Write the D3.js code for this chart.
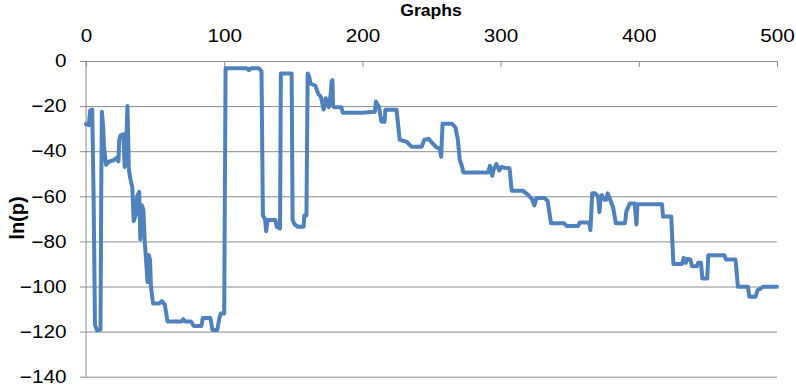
<!DOCTYPE html>
<html>
<head>
<meta charset="utf-8">
<script src="https://cdn.jsdelivr.net/npm/d3@7"></script>
<style>
  html, body { margin: 0; padding: 0; background: #fff; }
  svg { display: block; }
</style>
</head>
<body>
<svg id="chart" width="796" height="387"></svg>
<script>
// Graph index along the run
const graphs = [
  0, 2, 3, 4.5, 5.5, 6.5, 8, 10.5, 11, 11.5, 12.5, 13, 14.5, 17, 20, 22, 23.5, 24, 25, 27,
  28, 29.5, 30, 31, 32, 33.5, 34.5, 36, 37, 38.5, 39.3, 40.5, 41.5, 42.5, 43.3, 44.5, 45.3, 46.3, 47, 48.5,
  53, 55, 57, 59, 69, 70.4, 71.5, 76, 78, 83.5, 84.5, 90, 91.5, 95, 96.5, 97.5, 100, 101, 116, 118,
  119.5, 125, 127, 128, 129.5, 130.4, 131.3, 137, 138, 140.4, 141, 148.8, 149.5, 151, 153.4, 157.5, 158, 159.5, 160.4, 161.5,
  162.5, 166, 168, 170, 172, 173.5, 175.6, 177, 177.7, 178.3, 178.8, 179.5, 184.7, 185.9, 200, 209, 209.8, 212, 213.7, 216,
  216.7, 224.7, 227, 232, 235.5, 243, 244.7, 248, 250, 253, 256, 257, 258, 264.8, 267.3, 269, 270.5, 272, 273, 291,
  292.3, 294, 295, 297, 299, 300.5, 304, 306.5, 308, 316, 318, 320, 322.5, 324.4, 326, 331.6, 334, 336.5, 346, 348,
  356, 357.3, 364, 365, 366.3, 368.5, 370.5, 371.5, 372.5, 373.3, 375, 376.5, 377.5, 379, 381.5, 383.4, 390, 391, 393.5, 397,
  398.3, 399, 401, 416.8, 417.5, 423.5, 425, 431.3, 432.5, 434, 435, 437.3, 438.5, 442, 443, 445, 446, 449.5, 450.3, 462,
  463, 470, 471.7, 479, 480, 484.5, 486, 488, 490, 500
];

// ln(p) at each graph
const lnP = [
  -28, -28.5, -22, -21.5, -60, -117, -119.5, -119, -60, -22.5, -30, -38, -46, -44.5, -44, -43, -44.5, -35, -33, -32.5,
  -47, -30, -20, -48, -52, -56, -71, -68, -60, -58, -79, -64, -66, -80, -87, -98, -86, -88, -100, -107.5,
  -107.5, -106.5, -108, -115.5, -115.5, -114.5, -115.5, -115.5, -117.5, -117.5, -114, -114, -119.3, -119.3, -114, -112, -112, -3.2, -3.2, -4,
  -3.2, -3.2, -4.5, -68.5, -70, -75.5, -70.5, -70.5, -73.5, -74.3, -5.5, -5.5, -70.5, -72.5, -73.5, -73.5, -68.5, -68.5, -5.5, -7,
  -10, -11, -14.5, -16, -21.5, -16.5, -20.5, -15, -9, -8.5, -20, -20.5, -20.5, -23, -23, -22.5, -18, -20.5, -26.8, -27,
  -21.6, -21.6, -35, -35.8, -38, -38, -35, -34.5, -36, -38, -39, -42.5, -27.8, -27.8, -29.5, -34.6, -44, -46.5, -49.4, -49.4,
  -46.5, -50.9, -48, -45.7, -48.5, -47, -47.5, -47.6, -57.5, -57.5, -58.5, -59.5, -61, -64, -60.7, -60.7, -62, -72, -72, -73.2,
  -73.2, -71.6, -71.6, -75, -58.7, -58.7, -60, -67, -60, -59.5, -61.5, -61.5, -58.7, -61, -65.2, -72, -72, -66.7, -63.2, -63.2,
  -72.5, -63.5, -63.5, -63.5, -69, -69, -90, -90, -87.3, -89.5, -87.8, -88, -91, -91, -89.5, -89.5, -96.5, -96.5, -86.1, -86.1,
  -88, -88, -100.1, -100.1, -104.5, -104.5, -101.6, -101, -100.1, -100.1
];

const xTicks = [0, 100, 200, 300, 400, 500];
const yTicks = [0, -20, -40, -60, -80, -100, -120, -140];
const xTitle = "Graphs";
const yTitle = "ln(p)";

const svg = d3.select("#chart");
const plot = { left: 86, right: 777, top: 61, bottom: 376.7 };

const x = d3.scaleLinear().domain([0, 500]).range([plot.left, plot.right]);
const y = d3.scaleLinear().domain([-140, 0]).range([plot.bottom, plot.top]);

const gridColor = "#8c8c8c";
const font = "'Liberation Sans', Arial, sans-serif";

// Horizontal gridlines with short ticks on the left
const yAxis = d3.axisLeft(y)
  .tickValues(yTicks)
  .tickFormat(d3.format("d"))
  .tickSizeInner(-(plot.right - plot.left))
  .tickSizeOuter(0)
  .tickPadding(0);

const gy = svg.append("g")
  .attr("transform", `translate(${plot.left},0)`)
  .call(yAxis);
gy.select(".domain").remove();
gy.selectAll(".tick line")
  .attr("x1", -6)
  .attr("stroke", gridColor)
  .attr("stroke-width", 1);
gy.selectAll(".tick text")
  .attr("x", -17)
  .attr("transform", "scale(1.15,1)")
  .attr("fill", "#000")
  .style("font-family", font)
  .style("font-size", "18px");

// Vertical axis line
svg.append("line")
  .attr("x1", plot.left).attr("x2", plot.left)
  .attr("y1", plot.top).attr("y2", plot.bottom)
  .attr("stroke", gridColor)
  .attr("stroke-width", 1);

// Top axis with inward ticks
const xAxis = d3.axisTop(x)
  .tickValues(xTicks)
  .tickFormat(d3.format("d"))
  .tickSizeInner(-6)
  .tickSizeOuter(0)
  .tickPadding(19);

const gx = svg.append("g")
  .attr("transform", `translate(0,${plot.top})`)
  .call(xAxis);
gx.select(".domain")
  .attr("stroke", gridColor)
  .attr("stroke-width", 1);
gx.selectAll(".tick line")
  .attr("stroke", gridColor)
  .attr("stroke-width", 1);
gx.selectAll(".tick text")
  .attr("transform", "scale(1.15,1)")
  .attr("fill", "#000")
  .style("font-family", font)
  .style("font-size", "18px");

// Data line
const pts = graphs.map((g, i) => [g, lnP[i]]);
const line = d3.line()
  .x(d => x(d[0]))
  .y(d => y(d[1]));

svg.append("path")
  .datum(pts)
  .attr("d", line)
  .attr("fill", "none")
  .attr("stroke", "#4F81BD")
  .attr("stroke-width", 4)
  .attr("stroke-linejoin", "round")
  .attr("stroke-linecap", "round");

// Axis titles
svg.append("text")
  .attr("transform", "translate(431,16) scale(1.1,1)")
  .attr("text-anchor", "middle")
  .style("font-family", font)
  .style("font-weight", "bold")
  .style("font-size", "16px")
  .text(xTitle);

svg.append("text")
  .attr("transform", "translate(24,218) rotate(-90)")
  .attr("text-anchor", "middle")
  .style("font-family", font)
  .style("font-weight", "bold")
  .style("font-size", "20px")
  .text(yTitle);
</script>
</body>
</html>
